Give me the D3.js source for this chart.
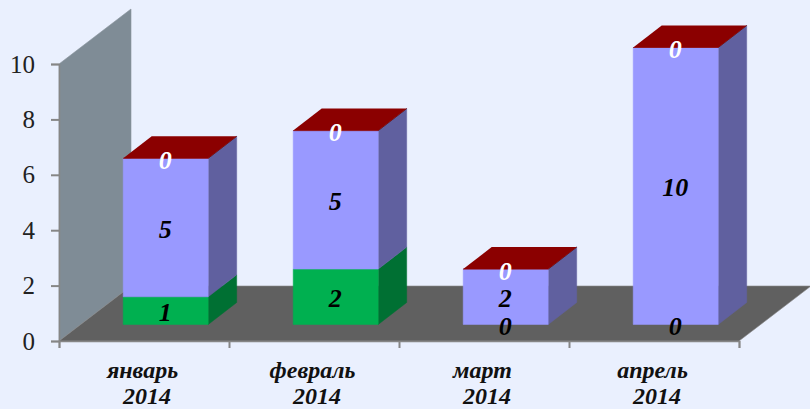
<!DOCTYPE html>
<html><head><meta charset="utf-8">
<script src="https://cdn.jsdelivr.net/npm/d3@7/dist/d3.min.js"></script>
<style>
html,body{margin:0;padding:0;background:#eaf0fe;overflow:hidden}
text{font-family:"Liberation Serif",serif}
</style></head><body><svg id="c" width="810" height="409"></svg>
<script>
const months=["январь","февраль","март","апрель"];
const years=["2014","2014","2014","2014"];
const greenValues=[1,2,0,0];
const purpleValues=[5,5,2,10];
const redValues=[0,0,0,0];
const yTicks=[0,2,4,6,8,10];

const svg=d3.select("#c");
const x=d3.scaleBand().domain(months).range([59,739]).paddingInner(.5).paddingOuter(.25);
const xEdge=d3.scaleLinear().domain([0,4]).range([59,739]);
const y=d3.scaleLinear().domain([0,10]).range([341,64]);
const wallDx=72,wallDy=55, barOffX=21.7,barOffY=16.5, barDx=28.5,barDy=22;
const pts=a=>a.map(p=>p.join(",")).join(" ");

// wall and floor
svg.append("polygon").attr("fill","#7f8c96").attr("stroke","#8a949c").attr("stroke-width",.6)
 .attr("points",pts([[59,y(0)],[59,y(10)],[59+wallDx,y(10)-wallDy],[59+wallDx,y(0)-wallDy]]));
svg.append("polygon").attr("fill","#606060").attr("stroke","#8a8a8a").attr("stroke-width",.6)
 .attr("points",pts([[59,y(0)],[739,y(0)],[739+wallDx,y(0)-wallDy],[59+wallDx,y(0)-wallDy]]));

// axes
const yAxis=svg.append("g").attr("transform","translate(59,0)")
 .call(d3.axisLeft(y).tickValues(yTicks).tickSize(8).tickPadding(16).tickFormat(d3.format("d")));
yAxis.selectAll("text").style("font-size","25px").attr("fill","#222");
svg.append("g").attr("transform",`translate(0,${y(0)})`)
 .call(d3.axisBottom(xEdge).tickValues([0,1,2,3,4]).tickSize(7).tickFormat(""));
svg.selectAll(".domain,.tick line").attr("stroke","#868686").attr("stroke-width",2);
svg.selectAll(".domain").attr("stroke-width",1.5);

// bars
function box(cat,from,to,front,side,top){
  const l=x(cat)+barOffX,r=l+x.bandwidth();
  const b=y(from)-barOffY,t=y(to)-barOffY;
  const g=svg.append("g");
  g.append("polygon").attr("fill",side).attr("stroke",side).attr("stroke-width",.5).attr("points",pts([[r,b],[r,t],[r+barDx,t-barDy],[r+barDx,b-barDy]]));
  g.append("polygon").attr("fill",front).attr("stroke",front).attr("stroke-width",.5).attr("points",pts([[l,b],[r,b],[r,t],[l,t]]));
  if(top) g.append("polygon").attr("fill",top).attr("points",pts([[l,t],[r,t],[r+barDx,t-barDy],[l+barDx,t-barDy]]));
}
function lab(cat,v,value,color){
  svg.append("text").attr("x",x(cat)+barOffX+x.bandwidth()/2-0.5).attr("y",y(v)-barOffY)
   .attr("dy","0.4em").attr("text-anchor","middle").attr("fill",color)
   .style("font-size","26px").style("font-weight","bold").style("font-style","italic").text(value);
}
months.forEach((m,i)=>{
  const g=greenValues[i],p=purpleValues[i],r=redValues[i];
  if(g>0) box(m,0,g,"#00b050","#007033");
  box(m,g,g+p,"#9999ff","#60609f");
  box(m,g+p,g+p+r,"#8b0000","#5c0000","#8b0000");
});
months.forEach((m,i)=>{
  const g=greenValues[i],p=purpleValues[i],r=redValues[i];
  lab(m,g/2,g,"#000");
  lab(m,g+p/2,p,"#000");
  lab(m,g+p+r/2,r,"#fff");
});

// category labels
months.forEach((m,i)=>{
  const cx=x(m)+x.bandwidth()/2;
  [[m,378,cx-1.5],[years[i],404,cx+3]].forEach(([s,yy,xx])=>{
    svg.append("text").attr("x",xx).attr("y",yy).attr("text-anchor","middle").attr("fill","#111")
     .style("font-size","24px").style("font-weight","bold").style("font-style","italic").text(s);
  });
});
</script></body></html>
